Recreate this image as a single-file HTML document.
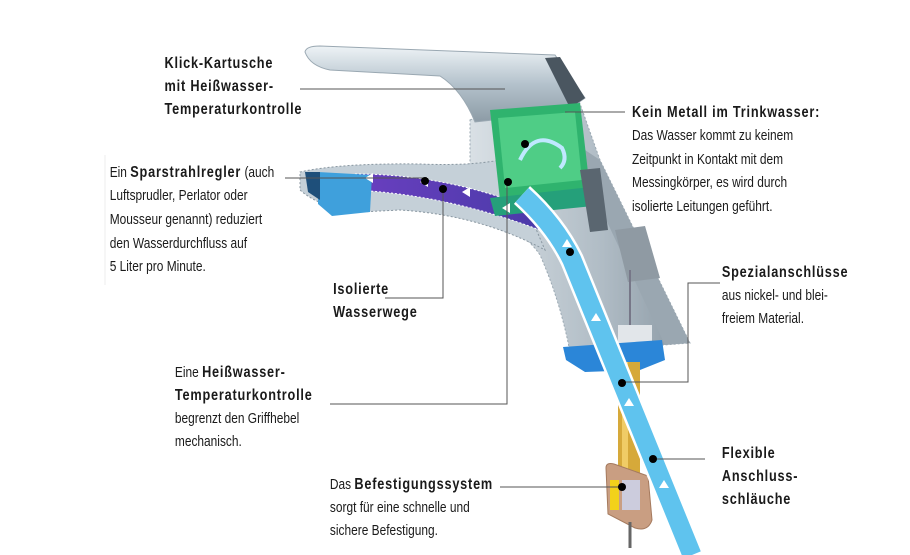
<!DOCTYPE html>
<html><head><meta charset="utf-8"><style>
html,body{margin:0;padding:0;background:#fff;}
svg{display:block}
text{font-family:"Liberation Sans",sans-serif;font-size:15px;fill:#1a1a1a;}
.b{font-weight:bold;font-size:16px;letter-spacing:1px;}
</style></head><body>
<svg width="910" height="555" viewBox="0 0 910 555" xmlns="http://www.w3.org/2000/svg">
<defs>
<linearGradient id="chrome" x1="0" y1="0" x2="0" y2="1">
<stop offset="0" stop-color="#eef3f6"/><stop offset="0.5" stop-color="#b4c2cc"/><stop offset="1" stop-color="#8c9ba6"/></linearGradient>
<linearGradient id="body" x1="0" y1="0" x2="1" y2="0">
<stop offset="0" stop-color="#d9e0e5"/><stop offset="0.6" stop-color="#b0bcc5"/><stop offset="1" stop-color="#8a98a3"/></linearGradient>
<linearGradient id="purp" x1="0" y1="0" x2="1" y2="0">
<stop offset="0" stop-color="#6a3fc0"/><stop offset="1" stop-color="#4a3aa8"/></linearGradient>
</defs>
<!-- body -->
<path d="M470,120 L520,100 L578,98 L600,160 L690,343 L570,352 Q560,300 540,255 Q520,225 470,215 Z" fill="url(#body)" stroke="#9aa8b2" stroke-dasharray="2,2"/>
<path d="M585,150 L600,160 L690,343 L665,345 L585,175 Z" fill="#9aa7b1"/>
<!-- grey slab -->
<path d="M615,230 L645,226 L660,278 L628,282 Z" fill="#8f9aa3"/>
<!-- handle -->
<path d="M305,52 Q306,46 320,46 L555,55 L585,98 L565,112 L475,122 Q462,90 440,76 L330,70 Q310,66 305,52 Z" fill="url(#chrome)" stroke="#9aa8b2" stroke-width="1"/>
<path d="M545,58 L560,57 L585,98 L570,108 Z" fill="#4a5660"/>
<!-- spout -->
<path d="M300,172 Q340,163 420,164 Q470,166 500,160 L530,215 L545,250 Q480,215 400,210 L360,212 Q320,208 300,190 Z" fill="#c5d0d8" stroke="#8896a0" stroke-dasharray="2,2"/>
<path d="M355,174 Q450,174 540,212 L545,232 Q450,195 355,190 Z" fill="url(#purp)" stroke="#fff" stroke-width="1" stroke-dasharray="2,2"/>
<path d="M318,172 L372,175 L370,212 L332,216 L318,204 Z" fill="#3fa0dc"/>
<path d="M305,172 L320,172 L320,200 L308,192 Z" fill="#1e4f7a"/>
<!-- green cartridge -->
<path d="M490,110 L580,103 L590,190 L500,200 Z" fill="#2fb36e"/>
<path d="M498,118 L575,112 L582,180 L505,188 Z" fill="#4fcd86"/>
<path d="M520,160 Q535,128 562,148 Q568,160 560,168" fill="none" stroke="#bfe8ff" stroke-width="4"/>
<path d="M490,198 L600,186 L603,205 L495,216 Z" fill="#25a07a"/>
<path d="M580,170 L600,168 L608,230 L590,232 Z" fill="#5a6670"/>
<line x1="630" y1="270" x2="630" y2="325" stroke="#778" stroke-width="2"/>
<rect x="618" y="325" width="34" height="22" fill="#e2e6ea"/>
<!-- base ring -->
<path d="M563,347 L662,340 L665,360 L640,370 L585,372 L566,360 Z" fill="#2b86d8"/>
<!-- gold rod -->
<rect x="618" y="362" width="22" height="120" fill="#d6a93a"/>
<rect x="622" y="362" width="6" height="120" fill="#f0cc66"/>
<!-- bracket -->
<path d="M606,468 Q606,462 614,464 L648,476 L652,520 Q648,532 635,528 L608,514 Z" fill="#c99e82" stroke="#a57a5e"/>
<rect x="610" y="480" width="9" height="30" fill="#f2d21a"/>
<rect x="622" y="480" width="18" height="30" fill="#ccd"/>
<line x1="630" y1="522" x2="630" y2="548" stroke="#666" stroke-width="3"/>
<!-- blue tube -->
<path d="M522,195 Q555,225 572,260 L692,555" fill="none" stroke="#fff" stroke-width="24"/>
<path d="M522,195 Q555,225 572,260 L692,555" fill="none" stroke="#5fc3ee" stroke-width="19"/>
<!-- arrows -->
<g fill="#fff">
<polygon points="365,178 373,173 373,183"/><polygon points="420,182 428,177 428,187"/><polygon points="462,192 470,187 470,197"/>
<polygon points="502,208 510,203 510,213"/>
<polygon points="567,239 562,247 572,247"/><polygon points="596,313 591,321 601,321"/>
<polygon points="629,398 624,406 634,406"/><polygon points="664,480 659,488 669,488"/>
</g>
<!-- lines -->
<g stroke="#555" stroke-width="1" fill="none">
<line x1="300" y1="89" x2="505" y2="89"/>
<line x1="285" y1="178" x2="425" y2="178"/>
<polyline points="385,298 443,298 443,190"/>
<polyline points="330,404 507,404 507,182"/>
<line x1="565" y1="112" x2="625" y2="112"/>
<polyline points="622,382 688,382 688,283 720,283"/>
<line x1="500" y1="487" x2="622" y2="487"/>
<line x1="653" y1="459" x2="705" y2="459"/>
</g>
<line x1="105" y1="155" x2="105" y2="285" stroke="#eee"/>
<g fill="#000">
<circle cx="425" cy="181" r="4"/><circle cx="443" cy="189" r="4"/><circle cx="525" cy="144" r="4"/>
<circle cx="508" cy="182" r="4"/><circle cx="570" cy="252" r="4"/><circle cx="622" cy="383" r="4"/>
<circle cx="653" cy="459" r="4"/><circle cx="622" cy="487" r="4"/>
</g>
<!-- texts -->
<g transform="scale(0.795,1)">
<text class="b" x="207" y="68">Klick-Kartusche</text>
<text class="b" x="207" y="91">mit Heißwasser-</text>
<text class="b" x="207" y="114">Temperaturkontrolle</text>

<text x="138" y="177">Ein <tspan class="b">Sparstrahlregler</tspan> (auch</text>
<text x="138" y="200">Luftsprudler, Perlator oder</text>
<text x="138" y="224">Mousseur genannt) reduziert</text>
<text x="138" y="248">den Wasserdurchfluss auf</text>
<text x="138" y="271">5 Liter pro Minute.</text>

<text class="b" x="419" y="294">Isolierte</text>
<text class="b" x="419" y="317">Wasserwege</text>

<text class="b" x="795" y="117">Kein Metall im Trinkwasser:</text>
<text x="795" y="140">Das Wasser kommt zu keinem</text>
<text x="795" y="164">Zeitpunkt in Kontakt mit dem</text>
<text x="795" y="187">Messingkörper, es wird durch</text>
<text x="795" y="211">isolierte Leitungen geführt.</text>

<text class="b" x="908" y="277">Spezialanschlüsse</text>
<text x="908" y="300">aus nickel- und blei-</text>
<text x="908" y="323">freiem Material.</text>

<text x="220" y="377">Eine <tspan class="b">Heißwasser-</tspan></text>
<text class="b" x="220" y="400">Temperaturkontrolle</text>
<text x="220" y="423">begrenzt den Griffhebel</text>
<text x="220" y="446">mechanisch.</text>

<text x="415" y="489">Das <tspan class="b">Befestigungssystem</tspan></text>
<text x="415" y="512">sorgt für eine schnelle und</text>
<text x="415" y="535">sichere Befestigung.</text>

<text class="b" x="908" y="458">Flexible</text>
<text class="b" x="908" y="481">Anschluss-</text>
<text class="b" x="908" y="504">schläuche</text>
</g>
</svg>
</body></html>
